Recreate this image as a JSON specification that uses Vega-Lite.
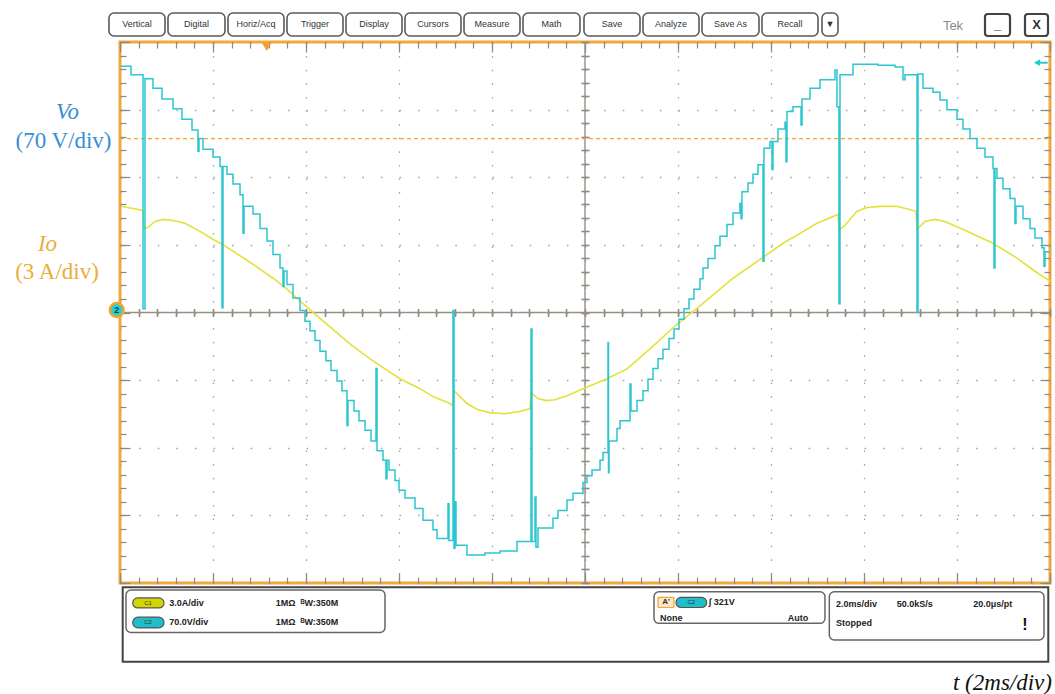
{
"$schema": "https://vega.github.io/schema/vega-lite/v6.json",
"width": 930, "height": 541,
"autosize": {"type": "none"},
"padding": {"left": 120, "top": 42, "right": 5, "bottom": 111},
"background": "white",
"config": {
  "view": {"stroke": "#F2A93B", "strokeWidth": 3},
  "axis": {"labels": false, "domain": false, "grid": false, "tickColor": "#8E887E", "tickWidth": 1.2}
},
"resolve": {"scale": {"y": "independent"}, "axis": {"x": "independent", "y": "independent"}},
"datasets": {
  "vo": [
{"t":-9.978,"V":255},{"t":-9.763,"V":246},{"t":-9.505,"V":4},{"t":-9.462,"V":242},{"t":-9.29,"V":232},{"t":-9.097,"V":221},{"t":-8.86,"V":211},{"t":-8.667,"V":200},{"t":-8.452,"V":189},{"t":-8.323,"V":167},{"t":-8.301,"V":180},{"t":-8.215,"V":169},{"t":-8.0,"V":161},{"t":-7.849,"V":151},{"t":-7.806,"V":5},{"t":-7.785,"V":151},{"t":-7.699,"V":143},{"t":-7.57,"V":133},{"t":-7.419,"V":122},{"t":-7.355,"V":82},{"t":-7.333,"V":110},{"t":-7.14,"V":102},{"t":-6.989,"V":87},{"t":-6.839,"V":74},{"t":-6.71,"V":60},{"t":-6.559,"V":46},{"t":-6.495,"V":27},{"t":-6.473,"V":43},{"t":-6.409,"V":29},{"t":-6.28,"V":15},{"t":-6.129,"V":2},{"t":-6.022,"V":-9},{"t":-5.914,"V":-19},{"t":-5.806,"V":-29},{"t":-5.699,"V":-40},{"t":-5.57,"V":-50},{"t":-5.462,"V":-60},{"t":-5.333,"V":-71},{"t":-5.226,"V":-81},{"t":-5.118,"V":-117},{"t":-5.097,"V":-91},{"t":-4.968,"V":-102},{"t":-4.86,"V":-112},{"t":-4.731,"V":-122},{"t":-4.602,"V":-133},{"t":-4.495,"V":-58},{"t":-4.473,"V":-143},{"t":-4.344,"V":-153},{"t":-4.28,"V":-172},{"t":-4.258,"V":-153},{"t":-4.215,"V":-163},{"t":-4.086,"V":-174},{"t":-4.0,"V":-184},{"t":-3.871,"V":-192},{"t":-3.656,"V":-203},{"t":-3.484,"V":-215},{"t":-3.269,"V":-225},{"t":-3.183,"V":-234},{"t":-2.946,"V":-198},{"t":-2.925,"V":-236},{"t":-2.839,"V":2},{"t":-2.817,"V":-244},{"t":-2.796,"V":-196},{"t":-2.774,"V":-241},{"t":-2.538,"V":-251},{"t":-2.151,"V":-249},{"t":-1.828,"V":-247},{"t":-1.462,"V":-237},{"t":-1.161,"V":-17},{"t":-1.14,"V":-237},{"t":-1.075,"V":-191},{"t":-1.054,"V":-243},{"t":-1.011,"V":-223},{"t":-0.688,"V":-213},{"t":-0.581,"V":-205},{"t":-0.387,"V":-194},{"t":-0.258,"V":-187},{"t":-0.043,"V":-176},{"t":0.043,"V":-169},{"t":0.151,"V":-163},{"t":0.323,"V":-153},{"t":0.387,"V":-145},{"t":0.495,"V":-31},{"t":0.505,"V":-166},{"t":0.516,"V":-133},{"t":0.688,"V":-120},{"t":0.753,"V":-112},{"t":0.968,"V":-74},{"t":0.989,"V":-102},{"t":1.118,"V":-91},{"t":1.247,"V":-81},{"t":1.355,"V":-69},{"t":1.462,"V":-58},{"t":1.57,"V":-48},{"t":1.677,"V":-38},{"t":1.806,"V":-27},{"t":1.914,"V":-17},{"t":2.022,"V":-7},{"t":2.129,"V":4},{"t":2.237,"V":14},{"t":2.344,"V":24},{"t":2.473,"V":35},{"t":2.538,"V":46},{"t":2.645,"V":56},{"t":2.796,"V":69},{"t":2.903,"V":79},{"t":3.054,"V":91},{"t":3.183,"V":103},{"t":3.333,"V":113},{"t":3.355,"V":97},{"t":3.376,"V":125},{"t":3.505,"V":134},{"t":3.613,"V":143},{"t":3.72,"V":153},{"t":3.828,"V":53},{"t":3.849,"V":170},{"t":3.978,"V":177},{"t":4.022,"V":148},{"t":4.043,"V":177},{"t":4.151,"V":190},{"t":4.301,"V":197},{"t":4.323,"V":156},{"t":4.344,"V":208},{"t":4.473,"V":213},{"t":4.645,"V":194},{"t":4.667,"V":221},{"t":4.839,"V":232},{"t":5.054,"V":241},{"t":5.376,"V":251},{"t":5.419,"V":213},{"t":5.462,"V":9},{"t":5.484,"V":246},{"t":5.763,"V":257},{"t":6.301,"V":256},{"t":6.667,"V":254},{"t":6.839,"V":241},{"t":6.882,"V":246},{"t":7.14,"V":0},{"t":7.161,"V":247},{"t":7.269,"V":232},{"t":7.484,"V":228},{"t":7.634,"V":220},{"t":7.785,"V":210},{"t":8.0,"V":200},{"t":8.129,"V":190},{"t":8.28,"V":180},{"t":8.43,"V":170},{"t":8.602,"V":161},{"t":8.774,"V":149},{"t":8.796,"V":46},{"t":8.817,"V":149},{"t":8.86,"V":139},{"t":8.989,"V":128},{"t":9.14,"V":118},{"t":9.247,"V":92},{"t":9.269,"V":110},{"t":9.419,"V":97},{"t":9.57,"V":87},{"t":9.677,"V":77},{"t":9.828,"V":67},{"t":9.871,"V":48},{"t":9.892,"V":63},{"t":10.0,"V":63}
  ],
  "io": [
{"t":-9.978,"I":4.71},{"t":-9.505,"I":4.53},{"t":-9.484,"I":3.73},{"t":-9.398,"I":3.78},{"t":-9.247,"I":4.04},{"t":-9.075,"I":4.13},{"t":-8.882,"I":4.09},{"t":-8.602,"I":3.96},{"t":-8.28,"I":3.6},{"t":-8.0,"I":3.25},{"t":-7.806,"I":3.03},{"t":-7.57,"I":2.72},{"t":-7.14,"I":2.14},{"t":-6.71,"I":1.52},{"t":-6.409,"I":1.04},{"t":-6.129,"I":0.51},{"t":-5.806,"I":-0.07},{"t":-5.484,"I":-0.64},{"t":-5.054,"I":-1.39},{"t":-4.624,"I":-2.06},{"t":-4.301,"I":-2.5},{"t":-3.978,"I":-2.94},{"t":-3.548,"I":-3.38},{"t":-3.269,"I":-3.73},{"t":-2.903,"I":-4.04},{"t":-2.839,"I":-4.13},{"t":-2.817,"I":-3.47},{"t":-2.688,"I":-3.73},{"t":-2.538,"I":-4.04},{"t":-2.301,"I":-4.31},{"t":-2.043,"I":-4.44},{"t":-1.72,"I":-4.49},{"t":-1.441,"I":-4.4},{"t":-1.183,"I":-4.27},{"t":-1.161,"I":-3.56},{"t":-1.011,"I":-3.82},{"t":-0.839,"I":-3.91},{"t":-0.645,"I":-3.87},{"t":-0.387,"I":-3.69},{"t":-0.043,"I":-3.38},{"t":0.473,"I":-2.94},{"t":0.903,"I":-2.5},{"t":1.398,"I":-1.61},{"t":1.935,"I":-0.6},{"t":2.473,"I":0.29},{"t":3.183,"I":1.52},{"t":3.806,"I":2.41},{"t":4.258,"I":3.07},{"t":4.624,"I":3.51},{"t":4.989,"I":3.96},{"t":5.441,"I":4.35},{"t":5.462,"I":3.65},{"t":5.591,"I":3.87},{"t":5.849,"I":4.49},{"t":6.065,"I":4.66},{"t":6.344,"I":4.71},{"t":6.71,"I":4.71},{"t":7.118,"I":4.49},{"t":7.14,"I":3.69},{"t":7.312,"I":4.04},{"t":7.527,"I":4.13},{"t":7.742,"I":4.04},{"t":8.215,"I":3.6},{"t":8.774,"I":3.07},{"t":9.29,"I":2.41},{"t":9.677,"I":1.83},{"t":10.0,"I":1.39}
  ],
  "one": [{}],
  "trig": [{"t":-6.845,"v":3.93}],
  "arrow": [{"t":9.72,"v":3.694}],
  "marker": [{"t":-10.071,"v":0.037}],
  "buttons": [
{"label":"Vertical","a":-10.237,"b":-9.032,"m":-9.634},
{"label":"Digital","a":-8.968,"b":-7.742,"m":-8.355},
{"label":"Horiz/Acq","a":-7.677,"b":-6.473,"m":-7.075},
{"label":"Trigger","a":-6.409,"b":-5.204,"m":-5.806},
{"label":"Display","a":-5.14,"b":-3.935,"m":-4.538},
{"label":"Cursors","a":-3.871,"b":-2.667,"m":-3.269},
{"label":"Measure","a":-2.602,"b":-1.398,"m":-2.0},
{"label":"Math","a":-1.333,"b":-0.108,"m":-0.72},
{"label":"Save","a":-0.022,"b":1.183,"m":0.581},
{"label":"Analyze","a":1.247,"b":2.452,"m":1.849},
{"label":"Save As","a":2.516,"b":3.742,"m":3.129},
{"label":"Recall","a":3.806,"b":5.011,"m":4.409},
{"label":"▼","a":5.097,"b":5.441,"m":5.269}
  ],
  "winbtn": [
{"label":"_","a":8.602,"b":9.14,"m":8.871},
{"label":"X","a":9.462,"b":9.957,"m":9.71}
  ],
  "tek": [{"t":7.914,"v":4.237,"label":"Tek"}],
  "lblVo": [{"t":-11.129,"v":2.965,"label":"Vo"}],
  "lblVdiv": [{"t":-11.215,"v":2.529,"label":"(70 V/div)"}],
  "lblIo": [{"t":-11.559,"v":1.02,"label":"Io"}],
  "lblAdiv": [{"t":-11.355,"v":0.599,"label":"(3 A/div)"}],
  "lblT": [{"t":10.043,"v":-5.479,"label":"t (2ms/div)"}],
  "outer": [{"a":-9.942,"b":9.963,"c":-4.064,"d":-5.164}],
  "boxes": [
{"a":-9.871,"b":-4.301,"c":-4.104,"d":-4.732},
{"a":1.484,"b":5.161,"c":-4.129,"d":-4.597},
{"a":5.254,"b":9.871,"c":-4.129,"d":-4.843}
  ],
  "pillY": [{"a":-9.727,"b":-9.054,"c":-4.221,"d":-4.369}],
  "pillC": [
{"a":-9.727,"b":-9.054,"c":-4.506,"d":-4.665},
{"a":1.957,"b":2.617,"c":-4.214,"d":-4.362}
  ],
  "pillLbl": [
{"t":-9.398,"v":-4.295,"label":"C1"},
{"t":-9.398,"v":-4.584,"label":"C2"},
{"t":2.287,"v":-4.288,"label":"C2"}
  ],
  "abox": [{"a":1.57,"b":1.914,"c":-4.214,"d":-4.362}],
  "aLbl": [{"t":1.742,"v":-4.288,"label":"A'"}],
  "panelTxt": [
{"t":-8.94,"v":-4.295,"label":"3.0A/div"},
{"t":-8.94,"v":-4.584,"label":"70.0V/div"},
{"t":-6.652,"v":-4.295,"label":"1MΩ"},
{"t":-6.652,"v":-4.584,"label":"1MΩ"},
{"t":-6.12,"v":-4.295,"label":"ᴮW:350M"},
{"t":-6.12,"v":-4.584,"label":"ᴮW:350M"},
{"t":2.66,"v":-4.288,"label":"∫ 321V"},
{"t":1.613,"v":-4.522,"label":"None"},
{"t":5.398,"v":-4.311,"label":"2.0ms/div"},
{"t":6.703,"v":-4.311,"label":"50.0kS/s"},
{"t":8.351,"v":-4.311,"label":"20.0μs/pt"},
{"t":5.398,"v":-4.587,"label":"Stopped"}
  ],
  "panelR": [{"t":4.802,"v":-4.522,"label":"Auto"}],
  "thermo": [{"t":9.462,"v":-4.621,"label":"!"}]
},
"layer": [
  {"data": {"name": "one"},
   "mark": {"type": "rule", "color": "#968F85", "strokeWidth": 1.4},
   "encoding": {
     "x": {"datum": 0, "scale": {"domain": [-10, 10], "nice": false, "zero": false},
           "axis": {"orient": "bottom", "values": [-10,-8,-6,-4,-2,0,2,4,6,8,10], "grid": true, "gridDash": [1.6, 12], "gridColor": "#A5A5A5", "gridWidth": 1.3, "tickSize": -10, "title": null}},
     "y": {"datum": -4, "scale": {"domain": [-4, 4], "nice": false, "zero": false},
           "axis": {"orient": "left", "values": [-4,-3,-2,-1,0,1,2,3,4], "grid": true, "gridDash": [1.6, 17], "gridColor": "#A5A5A5", "gridWidth": 1.3, "tickSize": -10, "title": null}},
     "y2": {"datum": 4}}},
  {"data": {"name": "one"},
   "mark": {"type": "rule", "color": "#968F85", "strokeWidth": 1.4},
   "encoding": {
     "x": {"datum": -10, "scale": {"domain": [-10, 10], "nice": false, "zero": false},
           "axis": {"orient": "bottom", "offset": -266.5, "values": [-10,-9.6,-9.2,-8.8,-8.4,-8,-7.6,-7.2,-6.8,-6.4,-6,-5.6,-5.2,-4.8,-4.4,-4,-3.6,-3.2,-2.8,-2.4,-2,-1.6,-1.2,-0.8,-0.4,0,0.4,0.8,1.2,1.6,2,2.4,2.8,3.2,3.6,4,4.4,4.8,5.2,5.6,6,6.4,6.8,7.2,7.6,8,8.4,8.8,9.2,9.6,10], "tickSize": -8, "tickWidth": 1.6, "title": null}},
     "x2": {"datum": 10},
     "y": {"datum": 0, "scale": {"domain": [-4, 4], "nice": false, "zero": false},
           "axis": {"orient": "left", "offset": -461, "values": [-4,-3.8,-3.6,-3.4,-3.2,-3,-2.8,-2.6,-2.4,-2.2,-2,-1.8,-1.6,-1.4,-1.2,-1,-0.8,-0.6,-0.4,-0.2,0,0.2,0.4,0.6,0.8,1,1.2,1.4,1.6,1.8,2,2.2,2.4,2.6,2.8,3,3.2,3.4,3.6,3.8,4], "tickSize": -8, "tickWidth": 1.6, "title": null}}}},
  {"data": {"name": "one"},
   "mark": {"type": "rule", "color": "#EFA537", "strokeDash": [4, 3], "strokeWidth": 1.2},
   "encoding": {
     "x": {"datum": -10, "scale": {"domain": [-10, 10], "nice": false, "zero": false},
           "axis": {"orient": "bottom", "values": [-10,-9.6,-9.2,-8.8,-8.4,-8,-7.6,-7.2,-6.8,-6.4,-6,-5.6,-5.2,-4.8,-4.4,-4,-3.6,-3.2,-2.8,-2.4,-2,-1.6,-1.2,-0.8,-0.4,0,0.4,0.8,1.2,1.6,2,2.4,2.8,3.2,3.6,4,4.4,4.8,5.2,5.6,6,6.4,6.8,7.2,7.6,8,8.4,8.8,9.2,9.6,10], "tickSize": -6, "title": null}},
     "x2": {"datum": 10},
     "y": {"datum": 2.57, "scale": {"domain": [-4, 4], "nice": false, "zero": false},
           "axis": {"orient": "left", "values": [-4,-3.8,-3.6,-3.4,-3.2,-3,-2.8,-2.6,-2.4,-2.2,-2,-1.8,-1.6,-1.4,-1.2,-1,-0.8,-0.6,-0.4,-0.2,0,0.2,0.4,0.6,0.8,1,1.2,1.4,1.6,1.8,2,2.2,2.4,2.6,2.8,3,3.2,3.4,3.6,3.8,4], "tickSize": -6, "title": null}}}},
  {"data": {"name": "trig"},
   "mark": {"type": "point", "shape": "triangle-down", "filled": true, "color": "#F0A030", "size": 100, "opacity": 1},
   "encoding": {
     "x": {"field": "t", "type": "quantitative", "scale": {"domain": [-10, 10], "nice": false, "zero": false},
           "axis": {"orient": "top", "values": [-10,-9.6,-9.2,-8.8,-8.4,-8,-7.6,-7.2,-6.8,-6.4,-6,-5.6,-5.2,-4.8,-4.4,-4,-3.6,-3.2,-2.8,-2.4,-2,-1.6,-1.2,-0.8,-0.4,0,0.4,0.8,1.2,1.6,2,2.4,2.8,3.2,3.6,4,4.4,4.8,5.2,5.6,6,6.4,6.8,7.2,7.6,8,8.4,8.8,9.2,9.6,10], "tickSize": -6, "title": null}},
     "y": {"field": "v", "type": "quantitative", "scale": {"domain": [-4, 4], "nice": false, "zero": false},
           "axis": {"orient": "right", "values": [-4,-3.8,-3.6,-3.4,-3.2,-3,-2.8,-2.6,-2.4,-2.2,-2,-1.8,-1.6,-1.4,-1.2,-1,-0.8,-0.6,-0.4,-0.2,0,0.2,0.4,0.6,0.8,1,1.2,1.4,1.6,1.8,2,2.2,2.4,2.6,2.8,3,3.2,3.4,3.6,3.8,4], "tickSize": -6, "title": null}}}},
  {"data": {"name": "arrow"},
   "mark": {"type": "point", "shape": "triangle-left", "filled": true, "color": "#22C9D3", "size": 45, "opacity": 1},
   "encoding": {
     "x": {"field": "t", "type": "quantitative", "scale": {"domain": [-10, 10], "nice": false, "zero": false},
           "axis": {"orient": "top", "values": [-10,-8,-6,-4,-2,0,2,4,6,8,10], "tickSize": -10, "title": null}},
     "y": {"field": "v", "type": "quantitative", "scale": {"domain": [-4, 4], "nice": false, "zero": false},
           "axis": {"orient": "right", "values": [-4,-3,-2,-1,0,1,2,3,4], "tickSize": -10, "title": null}}}},
  {"data": {"name": "arrow"},
   "mark": {"type": "rule", "color": "#22C9D3", "strokeWidth": 2},
   "encoding": {
     "x": {"field": "t", "type": "quantitative", "scale": {"domain": [-10, 10], "nice": false, "zero": false}, "axis": null},
     "x2": {"datum": 9.95},
     "y": {"field": "v", "type": "quantitative", "scale": {"domain": [-4, 4], "nice": false, "zero": false}, "axis": null}}},
  {"data": {"name": "io"},
   "mark": {"type": "line", "color": "#E4E13A", "strokeWidth": 1.6},
   "encoding": {
     "x": {"field": "t", "type": "quantitative", "scale": {"domain": [-10, 10], "nice": false, "zero": false}, "axis": null},
     "y": {"field": "I", "type": "quantitative", "scale": {"domain": [-12, 12], "nice": false, "zero": false}, "axis": null}}},
  {"data": {"name": "vo"},
   "mark": {"type": "line", "interpolate": "step-after", "color": "#2CC6D0", "strokeWidth": 1.5},
   "encoding": {
     "x": {"field": "t", "type": "quantitative", "scale": {"domain": [-10, 10], "nice": false, "zero": false}, "axis": null},
     "y": {"field": "V", "type": "quantitative", "scale": {"domain": [-280, 280], "nice": false, "zero": false}, "axis": null}}},
  {"data": {"name": "marker"},
   "mark": {"type": "point", "shape": "circle", "filled": true, "fill": "#25D0D6", "stroke": "#F0A530", "strokeWidth": 2.5, "size": 190, "opacity": 1},
   "encoding": {
     "x": {"field": "t", "type": "quantitative", "scale": {"domain": [-10, 10], "nice": false, "zero": false}, "axis": null},
     "y": {"field": "v", "type": "quantitative", "scale": {"domain": [-4, 4], "nice": false, "zero": false}, "axis": null}}},
  {"data": {"name": "marker"},
   "mark": {"type": "text", "text": "2", "fontSize": 9, "fontWeight": "bold", "color": "#1D3B3B", "font": "Liberation Sans", "baseline": "middle", "align": "center"},
   "encoding": {
     "x": {"field": "t", "type": "quantitative", "scale": {"domain": [-10, 10], "nice": false, "zero": false}, "axis": null},
     "y": {"field": "v", "type": "quantitative", "scale": {"domain": [-4, 4], "nice": false, "zero": false}, "axis": null}}},
  {"data": {"name": "buttons"},
   "mark": {"type": "rect", "cornerRadius": 5, "fill": "white", "stroke": "#5A5A5A", "strokeWidth": 1.6},
   "encoding": {
     "x": {"field": "a", "type": "quantitative", "scale": {"domain": [-10, 10], "nice": false, "zero": false}, "axis": null},
     "x2": {"field": "b"},
     "y": {"datum": 4.429, "scale": {"domain": [-4, 4], "nice": false, "zero": false}, "axis": null},
     "y2": {"datum": 4.089}}},
  {"data": {"name": "buttons"},
   "mark": {"type": "text", "fontSize": 9, "font": "Liberation Sans", "color": "#333333", "baseline": "middle", "align": "center"},
   "encoding": {
     "x": {"field": "m", "type": "quantitative", "scale": {"domain": [-10, 10], "nice": false, "zero": false}, "axis": null},
     "y": {"datum": 4.259, "scale": {"domain": [-4, 4], "nice": false, "zero": false}, "axis": null},
     "text": {"field": "label"}}},
  {"data": {"name": "winbtn"},
   "mark": {"type": "rect", "cornerRadius": 3, "fill": "white", "stroke": "#444444", "strokeWidth": 2.2},
   "encoding": {
     "x": {"field": "a", "type": "quantitative", "scale": {"domain": [-10, 10], "nice": false, "zero": false}, "axis": null},
     "x2": {"field": "b"},
     "y": {"datum": 4.414, "scale": {"domain": [-4, 4], "nice": false, "zero": false}, "axis": null},
     "y2": {"datum": 4.089}}},
  {"data": {"name": "winbtn"},
   "mark": {"type": "text", "fontSize": 13, "fontWeight": "bold", "font": "Liberation Sans", "color": "#333333", "baseline": "middle", "align": "center"},
   "encoding": {
     "x": {"field": "m", "type": "quantitative", "scale": {"domain": [-10, 10], "nice": false, "zero": false}, "axis": null},
     "y": {"datum": 4.25, "scale": {"domain": [-4, 4], "nice": false, "zero": false}, "axis": null},
     "text": {"field": "label"}}},
  {"data": {"name": "tek"},
   "mark": {"type": "text", "fontSize": 13, "font": "Liberation Sans", "color": "#8A8A8A", "baseline": "middle", "align": "center"},
   "encoding": {
     "x": {"field": "t", "type": "quantitative", "scale": {"domain": [-10, 10], "nice": false, "zero": false}, "axis": null},
     "y": {"field": "v", "type": "quantitative", "scale": {"domain": [-4, 4], "nice": false, "zero": false}, "axis": null},
     "text": {"field": "label"}}},
  {"data": {"name": "lblVo"},
   "mark": {"type": "text", "fontSize": 23, "font": "Liberation Serif", "fontStyle": "italic", "color": "#3A8ED4", "baseline": "middle", "align": "center"},
   "encoding": {
     "x": {"field": "t", "type": "quantitative", "scale": {"domain": [-10, 10], "nice": false, "zero": false}, "axis": null},
     "y": {"field": "v", "type": "quantitative", "scale": {"domain": [-4, 4], "nice": false, "zero": false}, "axis": null},
     "text": {"field": "label"}}},
  {"data": {"name": "lblVdiv"},
   "mark": {"type": "text", "fontSize": 23, "font": "Liberation Serif", "color": "#3A8ED4", "baseline": "middle", "align": "center"},
   "encoding": {
     "x": {"field": "t", "type": "quantitative", "scale": {"domain": [-10, 10], "nice": false, "zero": false}, "axis": null},
     "y": {"field": "v", "type": "quantitative", "scale": {"domain": [-4, 4], "nice": false, "zero": false}, "axis": null},
     "text": {"field": "label"}}},
  {"data": {"name": "lblIo"},
   "mark": {"type": "text", "fontSize": 23, "font": "Liberation Serif", "fontStyle": "italic", "color": "#E9AE3B", "baseline": "middle", "align": "center"},
   "encoding": {
     "x": {"field": "t", "type": "quantitative", "scale": {"domain": [-10, 10], "nice": false, "zero": false}, "axis": null},
     "y": {"field": "v", "type": "quantitative", "scale": {"domain": [-4, 4], "nice": false, "zero": false}, "axis": null},
     "text": {"field": "label"}}},
  {"data": {"name": "lblAdiv"},
   "mark": {"type": "text", "fontSize": 23, "font": "Liberation Serif", "color": "#E9AE3B", "baseline": "middle", "align": "center"},
   "encoding": {
     "x": {"field": "t", "type": "quantitative", "scale": {"domain": [-10, 10], "nice": false, "zero": false}, "axis": null},
     "y": {"field": "v", "type": "quantitative", "scale": {"domain": [-4, 4], "nice": false, "zero": false}, "axis": null},
     "text": {"field": "label"}}},
  {"data": {"name": "lblT"},
   "mark": {"type": "text", "fontSize": 23, "font": "Liberation Serif", "fontStyle": "italic", "color": "#111111", "baseline": "middle", "align": "right"},
   "encoding": {
     "x": {"field": "t", "type": "quantitative", "scale": {"domain": [-10, 10], "nice": false, "zero": false}, "axis": null},
     "y": {"field": "v", "type": "quantitative", "scale": {"domain": [-4, 4], "nice": false, "zero": false}, "axis": null},
     "text": {"field": "label"}}},
  {"data": {"name": "outer"},
   "mark": {"type": "rect", "fillOpacity": 0, "fill": "white", "stroke": "#444444", "strokeWidth": 2},
   "encoding": {
     "x": {"field": "a", "type": "quantitative", "scale": {"domain": [-10, 10], "nice": false, "zero": false}, "axis": null},
     "x2": {"field": "b"},
     "y": {"field": "c", "type": "quantitative", "scale": {"domain": [-4, 4], "nice": false, "zero": false}, "axis": null},
     "y2": {"field": "d"}}},
  {"data": {"name": "boxes"},
   "mark": {"type": "rect", "cornerRadius": 5, "fillOpacity": 0, "fill": "white", "stroke": "#666666", "strokeWidth": 1.5},
   "encoding": {
     "x": {"field": "a", "type": "quantitative", "scale": {"domain": [-10, 10], "nice": false, "zero": false}, "axis": null},
     "x2": {"field": "b"},
     "y": {"field": "c", "type": "quantitative", "scale": {"domain": [-4, 4], "nice": false, "zero": false}, "axis": null},
     "y2": {"field": "d"}}},
  {"data": {"name": "pillY"},
   "mark": {"type": "rect", "cornerRadius": 6, "fill": "#D4D400", "stroke": "#555555", "strokeWidth": 1.2},
   "encoding": {
     "x": {"field": "a", "type": "quantitative", "scale": {"domain": [-10, 10], "nice": false, "zero": false}, "axis": null},
     "x2": {"field": "b"},
     "y": {"field": "c", "type": "quantitative", "scale": {"domain": [-4, 4], "nice": false, "zero": false}, "axis": null},
     "y2": {"field": "d"}}},
  {"data": {"name": "pillC"},
   "mark": {"type": "rect", "cornerRadius": 6, "fill": "#20BEC8", "stroke": "#555555", "strokeWidth": 1.2},
   "encoding": {
     "x": {"field": "a", "type": "quantitative", "scale": {"domain": [-10, 10], "nice": false, "zero": false}, "axis": null},
     "x2": {"field": "b"},
     "y": {"field": "c", "type": "quantitative", "scale": {"domain": [-4, 4], "nice": false, "zero": false}, "axis": null},
     "y2": {"field": "d"}}},
  {"data": {"name": "pillLbl"},
   "mark": {"type": "text", "fontSize": 6, "font": "Liberation Sans", "color": "#333333", "baseline": "middle", "align": "center"},
   "encoding": {
     "x": {"field": "t", "type": "quantitative", "scale": {"domain": [-10, 10], "nice": false, "zero": false}, "axis": null},
     "y": {"field": "v", "type": "quantitative", "scale": {"domain": [-4, 4], "nice": false, "zero": false}, "axis": null},
     "text": {"field": "label"}}},
  {"data": {"name": "abox"},
   "mark": {"type": "rect", "cornerRadius": 1, "fill": "#FBE6C8", "stroke": "#F0A530", "strokeWidth": 1.2},
   "encoding": {
     "x": {"field": "a", "type": "quantitative", "scale": {"domain": [-10, 10], "nice": false, "zero": false}, "axis": null},
     "x2": {"field": "b"},
     "y": {"field": "c", "type": "quantitative", "scale": {"domain": [-4, 4], "nice": false, "zero": false}, "axis": null},
     "y2": {"field": "d"}}},
  {"data": {"name": "aLbl"},
   "mark": {"type": "text", "fontSize": 8, "fontWeight": "bold", "font": "Liberation Sans", "color": "#333333", "baseline": "middle", "align": "center"},
   "encoding": {
     "x": {"field": "t", "type": "quantitative", "scale": {"domain": [-10, 10], "nice": false, "zero": false}, "axis": null},
     "y": {"field": "v", "type": "quantitative", "scale": {"domain": [-4, 4], "nice": false, "zero": false}, "axis": null},
     "text": {"field": "label"}}},
  {"data": {"name": "panelTxt"},
   "mark": {"type": "text", "fontSize": 9, "fontWeight": "bold", "font": "Liberation Sans", "color": "#222222", "baseline": "middle", "align": "left"},
   "encoding": {
     "x": {"field": "t", "type": "quantitative", "scale": {"domain": [-10, 10], "nice": false, "zero": false}, "axis": null},
     "y": {"field": "v", "type": "quantitative", "scale": {"domain": [-4, 4], "nice": false, "zero": false}, "axis": null},
     "text": {"field": "label"}}},
  {"data": {"name": "panelR"},
   "mark": {"type": "text", "fontSize": 9, "fontWeight": "bold", "font": "Liberation Sans", "color": "#222222", "baseline": "middle", "align": "right"},
   "encoding": {
     "x": {"field": "t", "type": "quantitative", "scale": {"domain": [-10, 10], "nice": false, "zero": false}, "axis": null},
     "y": {"field": "v", "type": "quantitative", "scale": {"domain": [-4, 4], "nice": false, "zero": false}, "axis": null},
     "text": {"field": "label"}}},
  {"data": {"name": "thermo"},
   "mark": {"type": "text", "fontSize": 16, "fontWeight": "bold", "font": "Liberation Sans", "color": "#111111", "baseline": "middle", "align": "center"},
   "encoding": {
     "x": {"field": "t", "type": "quantitative", "scale": {"domain": [-10, 10], "nice": false, "zero": false}, "axis": null},
     "y": {"field": "v", "type": "quantitative", "scale": {"domain": [-4, 4], "nice": false, "zero": false}, "axis": null},
     "text": {"field": "label"}}}
]
}
